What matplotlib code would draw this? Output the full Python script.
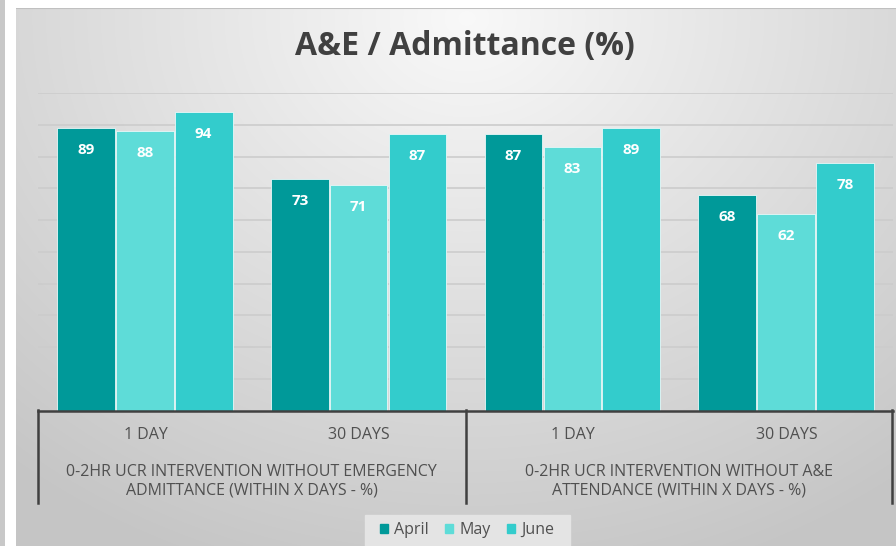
import numpy as np
import matplotlib
matplotlib.use("Agg")
import matplotlib.pyplot as plt
from matplotlib.patches import Rectangle
from matplotlib.lines import Line2D

plt.rcParams['font.family'] = ['Open Sans', 'DejaVu Sans']

categories = ["1 DAY", "30 DAYS", "1 DAY", "30 DAYS"]
groups = ["0-2HR UCR INTERVENTION WITHOUT EMERGENCY\nADMITTANCE (WITHIN X DAYS - %)",
          "0-2HR UCR INTERVENTION WITHOUT A&E\nATTENDANCE (WITHIN X DAYS - %)"]
series_names = ["April", "May", "June"]
april = [89, 73, 87, 68]
may = [88, 71, 83, 62]
june = [94, 87, 89, 78]
colors = ["#009999", "#5EDCD8", "#33CCCC"]
title = "A&E / Admittance (%)"

W, H = 896, 546
fig = plt.figure(figsize=(W / 100, H / 100), dpi=100)
fig.patch.set_facecolor("white")

def fx(px):
    return px / W

def fy(py):
    return 1 - py / H

# left gray strip
strip = fig.add_axes([0, 0, fx(5), 1])
strip.set_axis_off()
strip.add_patch(Rectangle((0, 0), 1, 1, color="#c8c8c8", transform=strip.transAxes))

# chart background with radial gradient
bx0, by0 = 16, 8
bg = fig.add_axes([fx(bx0), 0, fx(W - bx0), fy(by0)])
bg.set_axis_off()
yy, xx = np.mgrid[0:H - by0, 0:W - bx0]
cx, cy = 450, 10
r = np.sqrt(((xx - cx) / 1.0) ** 2 + ((yy - cy) * 1.2) ** 2)
t = np.clip(r / 700, 0, 1)
val = 0.975 - 0.2 * t
img = np.dstack([val, val, val])
bg.imshow(img, aspect="auto", extent=[0, 1, 0, 1], origin="upper")
bg.set_xlim(0, 1)
bg.set_ylim(0, 1)
bg.add_line(Line2D([0, 1], [1, 1], color="#c0c0c0", lw=1.5, transform=bg.transAxes))

# main axes
left, right, top, bottom = 38, 893, 93, 410.5
ax = fig.add_axes([fx(left), fy(bottom), fx(right - left), fy(top) - fy(bottom)])
ax.patch.set_alpha(0)
ax.set_xlim(-0.5, 3.5)
ax.set_ylim(0, 100)
ax.set_yticks(np.arange(10, 101, 10))
ax.yaxis.grid(True, color="#cccccc", lw=1.2)
ax.set_axisbelow(True)
ax.tick_params(left=False, bottom=False, labelleft=False, labelbottom=False)
for s in ["top", "right", "left"]:
    ax.spines[s].set_visible(False)
ax.spines["bottom"].set_color("#404040")
ax.spines["bottom"].set_linewidth(1.8)

x = np.arange(len(categories))
bw = 0.27
offs = [-0.275, 0, 0.275]
for vals, c, o, name in zip([april, may, june], colors, offs, series_names):
    bars = ax.bar(x + o, vals, width=bw, color=c, edgecolor="#e8f8f8", linewidth=0.6, label=name)
    for b, v in zip(bars, vals):
        ax.annotate(str(v), (b.get_x() + b.get_width() / 2, v), xytext=(0, -22),
                    textcoords="offset pixels",
                    ha="center", va="center", color="white", fontsize=11, fontweight="bold")

# multi-level category axis
ov = fig.add_axes([0, 0, 1, 1])
ov.set_axis_off()
ov.set_xlim(0, W)
ov.set_ylim(H, 0)
for xv in [38, 465.5, 892]:
    ov.add_line(Line2D([xv, xv], [410, 503], color="#404040", lw=1.8))
cat_px = [145.5, 359, 573, 786.5]
for cxp, lab in zip(cat_px, categories):
    ov.text(cxp, 435, lab, ha="center", va="center", fontsize=11.5, color="#505050")
for gx, g in zip([251.5, 679], groups):
    ov.text(gx, 481, g, ha="center", va="center", fontsize=11.5, color="#505050",
            linespacing=1.25)

# title
ov.text(465, 47, title, ha="center", va="center", fontsize=23, fontweight="bold", color="#404040")

# legend box
ov.add_patch(Rectangle((365, 515), 205, 40, color="#e4e4e4", zorder=0))
handles = [Rectangle((0, 0), 1, 1, color=c) for c in colors]
leg = fig.legend(handles, series_names, loc="center", bbox_to_anchor=(fx(467), fy(530)),
                 ncol=3, frameon=False, fontsize=11.5, handlelength=0.5, handleheight=0.5,
                 handletextpad=0.4, columnspacing=1.0, labelcolor="#505050")

fig.savefig("out.png", dpi=100)
